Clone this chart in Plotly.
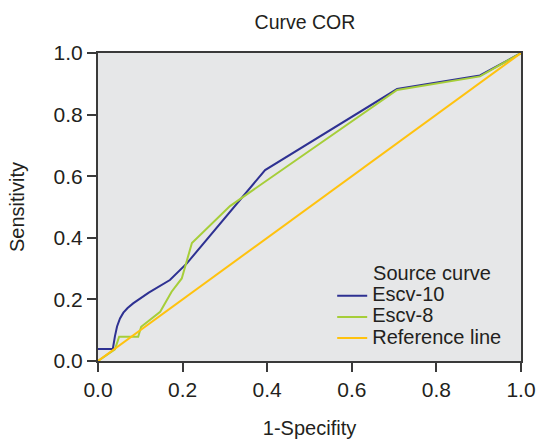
import plotly.graph_objects as go

# Data
escv10_x = [0.0, 0.035, 0.040, 0.045, 0.052, 0.060, 0.070, 0.083, 0.120, 0.170, 0.210, 0.395, 0.707, 0.903, 1.0]
escv10_y = [0.039, 0.039, 0.080, 0.112, 0.138, 0.157, 0.172, 0.187, 0.222, 0.263, 0.317, 0.620, 0.883, 0.927, 1.0]

escv8_x = [0.0, 0.040, 0.050, 0.095, 0.102, 0.147, 0.174, 0.198, 0.222, 0.312, 0.707, 0.903, 1.0]
escv8_y = [0.0, 0.038, 0.079, 0.079, 0.111, 0.160, 0.225, 0.268, 0.383, 0.503, 0.880, 0.924, 1.0]

ref_x = [0.0, 1.0]
ref_y = [0.0, 1.0]

series_names = ["Escv-10", "Escv-8", "Reference line"]
legend_title = "Source curve"

tick_vals = [0.0, 0.2, 0.4, 0.6, 0.8, 1.0]
tick_text = ["0.0", "0.2", "0.4", "0.6", "0.8", "1.0"]

FONT = "Liberation Sans, Arial, sans-serif"
TXT = "#231f20"
AX = "#3a3a3a"


def big(s, px=20):
    return f"<span style='font-size:{px}px'>{s}</span>"


fig = go.Figure()
fig.add_trace(go.Scatter(x=escv10_x, y=escv10_y, mode="lines", name=big(series_names[0]),
                         line=dict(color="#2e3192", width=2)))
fig.add_trace(go.Scatter(x=escv8_x, y=escv8_y, mode="lines", name=big(series_names[1]),
                         line=dict(color="#a6ce39", width=2)))
fig.add_trace(go.Scatter(x=ref_x, y=ref_y, mode="lines", name=big(series_names[2]),
                         line=dict(color="#ffc20e", width=2)))

axis_common = dict(
    range=[0, 1], tickvals=tick_vals, ticktext=tick_text, automargin=False,
    showgrid=False, zeroline=False, showline=True, mirror=True,
    linecolor=AX, linewidth=2, ticks="outside", ticklen=9, tickwidth=1.5,
    tickcolor=AX, tickfont=dict(family=FONT, size=21, color=TXT),
)

fig.update_layout(
    width=536, height=439,
    margin=dict(l=98, r=15, t=53, b=78),
    paper_bgcolor="white", plot_bgcolor="#e6e7e8",
    font=dict(family=FONT, color=TXT),
    title=dict(text="Curve COR", x=0.569, xanchor="center", y=0.95, yanchor="middle",
               font=dict(family=FONT, size=19.5, color=TXT)),
    xaxis=dict(**axis_common, title=dict(text="1-Specifity", standoff=26,
                                          font=dict(family=FONT, size=20, color=TXT))),
    yaxis=dict(**axis_common, title=dict(text="Sensitivity", standoff=24,
                                          font=dict(family=FONT, size=20, color=TXT))),
    legend=dict(title=dict(text=big("&nbsp;" * 7 + legend_title),
                           font=dict(family=FONT, size=14, color=TXT)),
                font=dict(family=FONT, size=14, color=TXT),
                x=0.965, xanchor="right", y=0.023, yanchor="bottom",
                bgcolor="rgba(0,0,0,0)", borderwidth=0, tracegroupgap=0),
    showlegend=True,
)

# remove the default 8px page margin so the figure fills the window exactly
fig.write_html("out.html",
               config={"displayModeBar": False},
               post_script="document.body.style.margin='0';"
                           "document.documentElement.style.overflow='hidden';")
